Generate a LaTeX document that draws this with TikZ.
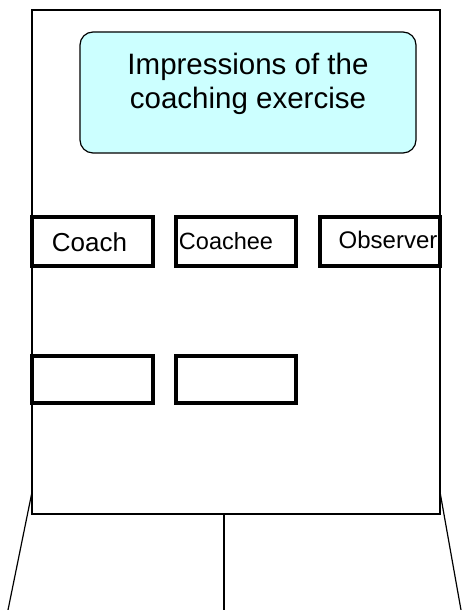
\documentclass[tikz,border=0pt]{standalone}
\usepackage{fontspec}
\setmainfont{Liberation Sans}
\definecolor{paleaqua}{HTML}{CCFFFF}
\begin{document}
\begin{tikzpicture}[x=1pt,y=1pt]
  \def\Xl{32};
  \def\Xr{440};
  \def\Xmid{224};
  \def\Yb{96};
  \def\Yt{600};
  \def\Yleg{118};
  \useasboundingbox (0,0) rectangle (461,610);
         \draw [line width=1.2pt] (\Xl, \Yb) rectangle (\Xr, \Yt);
         \draw [line width=1.2pt, rounded corners=13pt, fill=paleaqua] (80, 457) rectangle (416, 578);
	% boxes
	\draw [line width=3.2pt] (\Xl, 344) rectangle (153, 393);
	\draw [line width=3.2pt] (176, 344) rectangle (296, 393);
	\draw [line width=3.2pt] (320, 344) rectangle (\Xr, 393);
	\draw [line width=3.2pt] (\Xl, 207) rectangle (153, 254);
	\draw [line width=3.2pt] (176, 207) rectangle (296, 254);

	% legs
	\draw [line width=1.2pt] (\Xl, \Yleg) -- (8, 0);
	\draw [line width=1.2pt] (\Xr, \Yleg) -- (461, 0);
	\draw [line width=1.2pt] (\Xmid, \Yb) -- (\Xmid, 0);

	% labels
	\node (title) [align=center, font=\fontsize{29.5}{34}\selectfont] at (248, 526) {Impressions of the\\coaching exercise};
	\node (coach) [anchor=base, font=\fontsize{26}{30}\selectfont] at (89.5, 358) {Coach};
	\node (coachee) [anchor=base, font=\fontsize{23.5}{28}\selectfont] at (226, 360) {Coachee};
	\node (observer) [anchor=base, font=\fontsize{24}{28}\selectfont] at (388, 361) {Observer};

\end{tikzpicture}
\end{document}
